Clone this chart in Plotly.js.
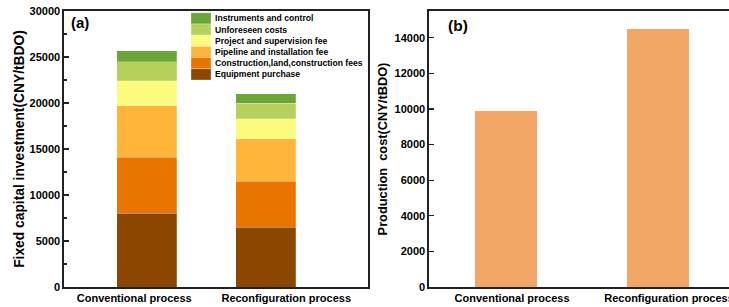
<!DOCTYPE html>
<html>
<head>
<meta charset="utf-8">
<script src="https://cdn.plot.ly/plotly-3.0.1.min.js"></script>
<style>html,body{margin:0;padding:0;background:#fff;}#chart{width:729px;height:307px;}</style>
</head>
<body>
<div id="chart"></div>
<script>
// ---- data ----
const categories = ['Conventional process', 'Reconfiguration process'];
const seriesNames = ['Equipment purchase', 'Construction,land,construction fees', 'Pipeline and installation fee',
  'Project and supervision fee', 'Unforeseen costs', 'Instruments and control'];
const equipment = [8000, 6500];
const construction = [6100, 5000];
const pipeline = [5600, 4600];
const project = [2700, 2200];
const unforeseen = [2100, 1700];
const instruments = [1200, 1000];
const productionCost = [9900, 14500];
const yTicksA = [0, 5000, 10000, 15000, 20000, 25000, 30000];
const yTicksB = [0, 2000, 4000, 6000, 8000, 10000, 12000, 14000];

// ---- style ----
const W = 729, H = 307;
const colors = ['#8B4700', '#E97500', '#FFB43A', '#FCFB7E', '#B6D05E', '#69A537'];
const barColorB = '#F2A766';
const FONT = 'Liberation Sans, Arial, sans-serif';
const px = x => x / W, py = y => 1 - y / H;
const seriesValues = [equipment, construction, pipeline, project, unforeseen, instruments];

const traces = seriesValues.map((vals, i) => ({
  type: 'bar', x: categories, y: vals, name: seriesNames[i],
  marker: {color: colors[i], line: {color: 'rgba(255,255,255,0.35)', width: 0.6}},
  width: 0.395, offset: [-0.114, -0.331],
  xaxis: 'x', yaxis: 'y', showlegend: false, hoverinfo: 'skip'
}));
traces.push({
  type: 'bar', x: categories, y: productionCost, name: 'Production cost',
  marker: {color: barColorB}, width: 0.394, offset: [-0.236, -0.269],
  xaxis: 'x2', yaxis: 'y2', showlegend: false, hoverinfo: 'skip'
});

const tickFont = {family: FONT, size: 11, color: '#000', weight: 'bold'};
const axisCommon = {showgrid: false, zeroline: false, showline: true, linecolor: '#222', linewidth: 1.6,
  automargin: false, tickfont: tickFont};

const layout = {
  width: W, height: H, margin: {l: 0, r: 0, t: 0, b: 0},
  paper_bgcolor: '#fff', plot_bgcolor: '#fff', barmode: 'stack', showlegend: false,
  font: {family: FONT, color: '#000'},
  xaxis: Object.assign({}, axisCommon, {domain: [px(64), px(368)], range: [-0.462, 1.538], anchor: 'y',
    ticks: '', mirror: true, type: 'category'}),
  yaxis: Object.assign({}, axisCommon, {domain: [py(287), py(11)], range: [0, 30000], anchor: 'x',
    tickmode: 'array', tickvals: yTicksA, ticktext: yTicksA.map(String),
    ticks: 'inside', ticklen: 5, tickwidth: 1.3, tickcolor: '#222', mirror: true,
    minor: {ticks: 'inside', ticklen: 3, tickwidth: 1.2, tickcolor: '#222', dtick: 2500, tick0: 0},
    title: {text: 'Fixed capital investment(CNY/tBDO)', font: {family: FONT, size: 13.8, weight: 'bold', color: '#000'}, standoff: 2}}),
  xaxis2: Object.assign({}, axisCommon, {domain: [px(429), 1], range: [-0.529, 1.382], anchor: 'y2',
    ticks: '', mirror: true, type: 'category'}),
  yaxis2: Object.assign({}, axisCommon, {domain: [py(287), py(11)], range: [0, 15500], anchor: 'x2',
    tickmode: 'array', tickvals: yTicksB, ticktext: yTicksB.map(String),
    ticks: 'inside', ticklen: 5, tickwidth: 1.3, tickcolor: '#222', mirror: false,
    title: {text: 'Production&nbsp;&nbsp;cost(CNY/tBDO)', font: {family: FONT, size: 12.8, weight: 'bold', color: '#000'}, standoff: 4}}),
  shapes: [],
  annotations: [
    {text: '(a)', xref: 'paper', yref: 'paper', x: px(69), y: py(22), xanchor: 'left', yanchor: 'middle',
      showarrow: false, font: {family: FONT, size: 15, weight: 'bold', color: '#000'}},
    {text: '(b)', xref: 'paper', yref: 'paper', x: px(446), y: py(25), xanchor: 'left', yanchor: 'middle',
      showarrow: false, font: {family: FONT, size: 15.5, weight: 'bold', color: '#000'}}
  ]
};

// manual compact legend (top = last series)
const legTop = 12.8, rowH = 11.2;
for (let k = 0; k < seriesNames.length; k++) {
  const i = seriesNames.length - 1 - k;
  const y0 = legTop + k * rowH;
  layout.shapes.push({type: 'rect', xref: 'paper', yref: 'paper', x0: px(191), x1: px(211),
    y0: py(y0 + rowH), y1: py(y0), fillcolor: colors[i], line: {width: 0.6, color: 'rgba(255,255,255,0.5)'}});
  layout.annotations.push({text: seriesNames[i], xref: 'paper', yref: 'paper', x: px(213), y: py(y0 + rowH / 2),
    xanchor: 'left', yanchor: 'middle', showarrow: false,
    font: {family: FONT, size: 8.6, weight: 'bold', color: '#000'}});
}

Plotly.newPlot('chart', traces, layout, {staticPlot: true, displayModeBar: false});
</script>
</body>
</html>
